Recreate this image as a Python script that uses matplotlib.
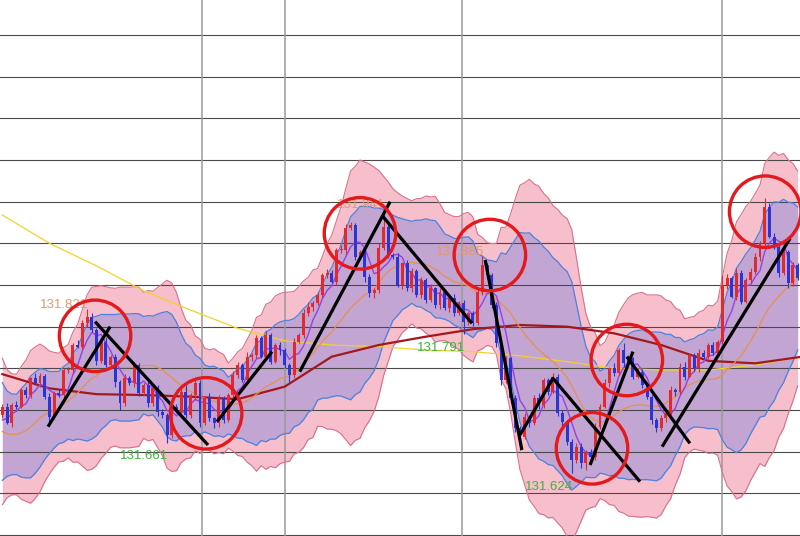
import matplotlib
matplotlib.use("Agg")
import matplotlib.pyplot as plt
import numpy as np
import pandas as pd

# prices are stored as thousandths above 131.500 (e.g. 321 -> 131.821)
BASE = 131.5

# 20 bars before the visible window, only used to warm up the indicators
warmup_closes = [248, 238, 222, 206, 188, 166, 146, 130, 126, 134,
                 146, 154, 164, 174, 169, 182, 176, 178, 188, 194]

opens = [194, 204, 185, 206, 204, 224, 218, 238, 232, 241,
         216, 192, 220, 218, 248, 248, 278, 276, 304, 312,
         296, 259, 282, 254, 264, 234, 208, 238, 232, 254,
         220, 230, 208, 226, 198, 194, 170, 204, 198, 222,
         194, 218, 232, 184, 214, 190, 184, 214, 188, 218,
         242, 254, 236, 264, 266, 286, 264, 290, 258, 278,
         272, 254, 242, 282, 290, 316, 324, 328, 338, 362,
         364, 354, 392, 392, 418, 422, 384, 390, 360, 340,
         344, 394, 420, 386, 384, 350, 376, 346, 367, 338,
         356, 332, 346, 326, 342, 322, 334, 316, 328, 306,
         316, 304, 342, 374, 362, 326, 280, 236, 262, 214,
         178, 168, 192, 184, 214, 206, 236, 222, 240, 196,
         186, 162, 140, 156, 136, 150, 144, 180, 204, 232,
         250, 244, 272, 256, 262, 240, 246, 230, 216, 188,
         178, 190, 196, 224, 222, 252, 240, 266, 250, 268,
         264, 278, 268, 282, 350, 358, 336, 364, 330, 356,
         366, 384, 400, 444, 408, 396, 364, 390, 352, 374]

closes = [204, 185, 206, 204, 224, 218, 238, 232, 241, 216,
          192, 220, 218, 248, 248, 278, 276, 304, 312, 296,
          259, 282, 254, 264, 234, 208, 238, 232, 254, 220,
          230, 208, 226, 198, 194, 170, 204, 198, 222, 194,
          218, 232, 184, 214, 190, 184, 214, 188, 218, 242,
          254, 236, 264, 266, 286, 264, 290, 258, 278, 272,
          254, 242, 282, 290, 316, 324, 328, 338, 362, 364,
          354, 392, 392, 418, 422, 384, 390, 360, 340, 344,
          394, 420, 386, 384, 350, 376, 346, 367, 338, 356,
          332, 346, 326, 342, 322, 334, 316, 328, 306, 316,
          304, 342, 374, 362, 326, 280, 236, 262, 214, 178,
          168, 192, 184, 214, 206, 236, 222, 240, 196, 186,
          162, 140, 156, 136, 150, 144, 180, 204, 232, 250,
          244, 272, 256, 262, 240, 246, 230, 216, 188, 178,
          190, 196, 224, 222, 252, 240, 266, 250, 268, 264,
          278, 268, 282, 350, 358, 336, 364, 330, 356, 366,
          384, 400, 444, 408, 396, 364, 390, 352, 374, 358]

# wick length above / below the candle body
hi_wick = [3, 4, 2, 5, 3, 4, 2, 6, 3, 2,
           4, 3, 5, 2, 4, 3, 6, 4, 9, 5,
           3, 4, 6, 2, 3, 2, 5, 3, 4, 2,
           3, 5, 2, 4, 3, 2, 6, 3, 4, 8,
           2, 5, 4, 3, 6, 2, 4, 3, 2, 5,
           4, 3, 6, 2, 4, 3, 5, 2, 3, 4,
           3, 2, 4, 3, 5, 6, 3, 4, 2, 5,
           4, 3, 6, 5, 4, 3, 2, 4, 3, 2,
           6, 21, 4, 3, 5, 2, 4, 3, 2, 4,
           3, 5, 2, 4, 3, 2, 5, 3, 4, 2,
           3, 4, 11, 3, 2, 4, 5, 3, 2, 4,
           3, 5, 2, 4, 6, 3, 2, 5, 3, 4,
           2, 3, 4, 5, 2, 3, 4, 3, 5, 2,
           6, 3, 8, 4, 2, 5, 3, 4, 2, 3,
           4, 2, 5, 3, 4, 6, 2, 3, 5, 4,
           3, 4, 2, 12, 5, 3, 6, 4, 2, 5,
           4, 3, 10, 5, 4, 3, 6, 2, 4, 3]

lo_wick = [4, 2, 5, 3, 2, 4, 3, 2, 4, 3,
           6, 3, 2, 4, 3, 5, 2, 3, 4, 2,
           5, 3, 2, 4, 6, 8, 3, 2, 4, 3,
           2, 4, 3, 5, 4, 9, 3, 2, 5, 4,
           3, 6, 4, 2, 3, 5, 4, 3, 2, 4,
           3, 2, 4, 5, 3, 2, 4, 3, 2, 6,
           4, 8, 3, 2, 4, 3, 5, 2, 4, 3,
           2, 4, 3, 5, 2, 4, 3, 6, 4, 5,
           3, 2, 4, 3, 2, 5, 3, 4, 2, 3,
           4, 2, 3, 5, 2, 4, 3, 2, 15, 4,
           3, 2, 4, 5, 3, 4, 6, 3, 5, 4,
           16, 3, 4, 2, 5, 3, 4, 2, 3, 5,
           4, 16, 3, 5, 8, 2, 4, 3, 2, 4,
           3, 2, 4, 5, 3, 2, 4, 3, 5, 4,
           3, 4, 2, 5, 3, 4, 2, 3, 4, 2,
           3, 2, 4, 3, 5, 2, 4, 3, 2, 4,
           3, 5, 4, 2, 3, 4, 2, 5, 3, 2]

# long moving averages, read every 10 bars
long_ma_idx = np.arange(0, 171, 10)
ma_darkred = [243, 226, 219, 218, 216, 213, 228, 264, 278, 288,
              297, 302, 300, 292, 278, 259, 256, 264]
ma_yellow = [434, 400, 373, 343, 320, 298, 283, 278, 276, 272,
             270, 265, 258, 250, 248, 248, 254, 264]

# session separators (bar position) and horizontal price grid
day_breaks = [42.5, 60.1, 97.7, 153.0]
price_grid = np.arange(131.55, 132.16, 0.05)

# zigzag high / low labels: (bar, price, kind)
swing_labels = [(18, 131.821, "high"), (35, 131.661, "low"),
                (81, 131.941, "high"), (98, 131.791, "low"),
                (102, 131.885, "high"), (121, 131.624, "low")]

# hand drawn annotations: circles (bar, price) and trend strokes
circles = [(19.7, 131.789), (43.3, 131.696), (76.0, 131.912), (103.6, 131.886),
           (132.7, 131.760), (125.3, 131.654), (162.1, 131.938)]
strokes = [[(9.7, 131.680), (22.9, 131.800)],
           [(19.7, 131.806), (43.7, 131.658)],
           [(45.6, 131.686), (57.3, 131.770)],
           [(63.2, 131.746), (82.4, 131.950)],
           [(80.9, 131.932), (99.8, 131.804)],
           [(102.6, 131.880), (110.4, 131.652)],
           [(110.0, 131.670), (117.0, 131.738), (135.5, 131.614)],
           [(124.9, 131.634), (134.0, 131.770)],
           [(132.7, 131.764), (146.1, 131.660)],
           [(140.2, 131.656), (167.4, 131.906)]]

# ---- indicators -------------------------------------------------------
o = BASE + np.array(opens) / 1000
c = BASE + np.array(closes) / 1000
hi = np.maximum(o, c) + np.array(hi_wick) / 1000
lo = np.minimum(o, c) - np.array(lo_wick) / 1000

all_c = pd.Series(np.r_[BASE + np.array(warmup_closes) / 1000, c])
n_w = len(warmup_closes)
ma5 = all_c.rolling(5).mean().values[n_w:]
ma20 = all_c.rolling(20).mean().values[n_w:]
sd20 = all_c.rolling(20).std(ddof=0).values[n_w:]
x = np.arange(len(closes))

fig = plt.figure(figsize=(8, 5.36), dpi=100)
ax = fig.add_axes([0, 0, 1, 1])
ax.set_axis_off()
ax.set_xlim(-0.5, len(closes) - 0.5)
ax.set_ylim(BASE + 48.8 / 1000, BASE + 692 / 1000)

# bollinger bands: +-3 sigma pink, +-2 sigma purple
ax.fill_between(x, ma20 - 3 * sd20, ma20 + 3 * sd20, color="#F7BECB", lw=0, zorder=1)
ax.fill_between(x, ma20 - 2 * sd20, ma20 + 2 * sd20, color="#C2A5D2", lw=0, zorder=1.1)

for p in price_grid:
    ax.axhline(p, color="#4a4a4a", lw=0.8, zorder=2)
for b in day_breaks:
    ax.axvline(b, color="#9a9a9a", lw=1.1, zorder=2)

for k in (3, -3):
    ax.plot(x, ma20 + k * sd20, color="#D8708C", lw=0.8, zorder=3)
for k in (2, -2):
    ax.plot(x, ma20 + k * sd20, color="#4C82E0", lw=0.9, zorder=3)

ax.plot(long_ma_idx, BASE + np.array(ma_yellow) / 1000, color="#F2D22A", lw=0.9, zorder=4)
ax.plot(long_ma_idx, BASE + np.array(ma_darkred) / 1000, color="#A3191B", lw=1.6, zorder=4)
ax.plot(x, ma20, color="#E8904C", lw=0.9, zorder=4)
ax.plot(x, ma5, color="#9A3FE6", lw=1.0, zorder=4)

# candles
up = c >= o
cols = np.where(up, "#E02A2E", "#2B35D6")
ax.vlines(x, lo, hi, colors=cols, lw=0.8, zorder=5)
body = np.maximum(np.abs(c - o), 0.0008)
ax.bar(x, body, bottom=np.minimum(o, c), width=0.62, color=cols, lw=0, zorder=5)

# swing labels
for i, p, kind in swing_labels:
    if kind == "high":
        ax.annotate(f"{p:.3f}", (i, p), xytext=(1, 3), textcoords="offset points",
                    ha="right", va="center", color="#E49A62", fontsize=9.5,
                    family=["Liberation Sans", "DejaVu Sans"], zorder=6)
    else:
        ax.annotate(f"{p:.3f}", (i, p), xytext=(1, -10), textcoords="offset points",
                    ha="right", va="center", color="#3DB43A", fontsize=9.5,
                    family=["Liberation Sans", "DejaVu Sans"], zorder=6)

for s in strokes:
    sx, sy = zip(*s)
    ax.plot(sx, sy, color="black", lw=2.3, solid_capstyle="butt", zorder=7)

cx, cy = zip(*circles)
ax.scatter(cx, cy, s=2650, facecolors="none", edgecolors="#E3191C", linewidths=2.4, zorder=8)

fig.savefig("out.png", dpi=100)
